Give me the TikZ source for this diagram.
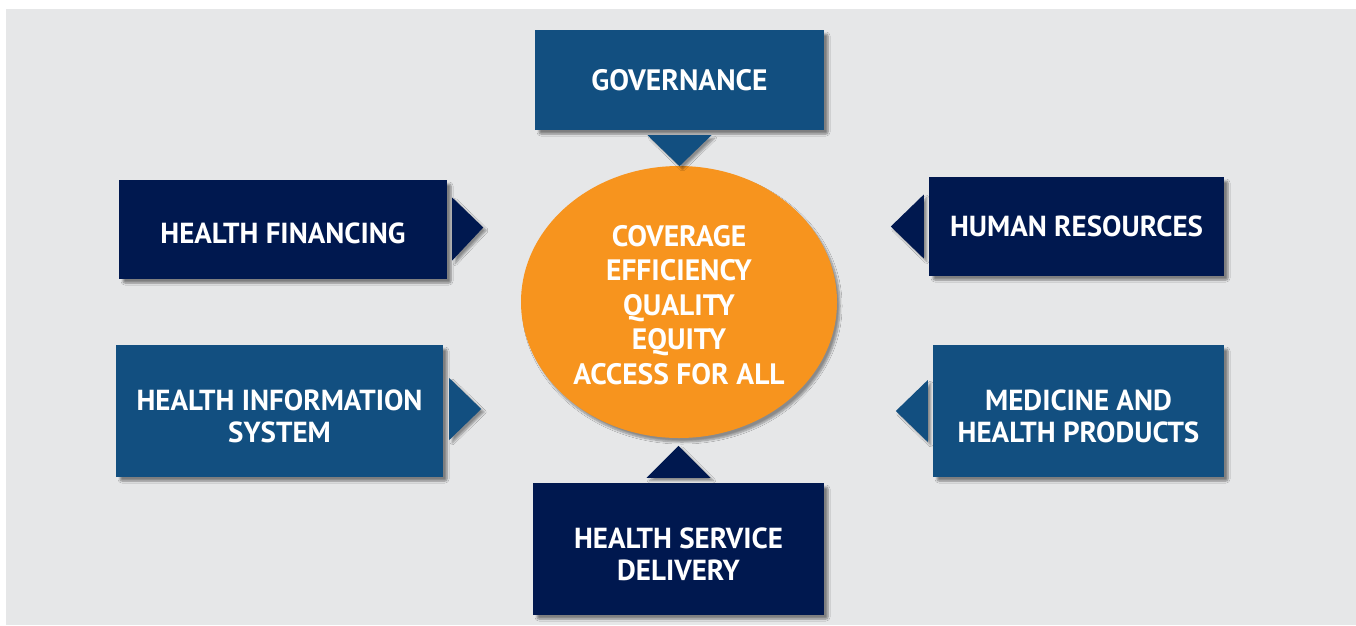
\documentclass[tikz,border=0pt]{standalone}
\usepackage{fontspec}
\setmainfont{PT Sans}
\usetikzlibrary{calc,shadows,shadows.blur,shapes.geometric}
\definecolor{bgray}{HTML}{E6E7E8}
\definecolor{medblue}{HTML}{124F80}
\definecolor{navy}{HTML}{00184F}
\definecolor{orangec}{HTML}{F7941E}
\tikzset{
  box/.style={rectangle, inner sep=0pt,
    blur shadow={shadow xshift=4pt, shadow yshift=-4pt, shadow opacity=45, shadow blur steps=6, shadow blur extra rounding=2pt}},
  lbl/.style={text=white, align=center, inner sep=0pt,
    font=\fontsize{29}{32}\selectfont\bfseries},
  tri/.style={blur shadow={shadow xshift=3pt, shadow yshift=-3pt, shadow opacity=40, shadow blur steps=5}},
}
\begin{document}
\begin{tikzpicture}[x=1pt,y=-1pt]
\useasboundingbox (0,0) rectangle (1356,625);
\fill[white] (0,0) rectangle (1356,625);
\fill[bgray] (6,9) rectangle (1356,625);
% ellipse
\node[ellipse, fill=orangec, minimum width=316pt, minimum height=272pt, inner sep=0pt,
  blur shadow={shadow xshift=3pt, shadow yshift=-4pt, shadow opacity=40, shadow blur steps=8}]
  (core) at (679,302) {};
\node[lbl, font=\fontsize{29.5}{34.5}\selectfont\bfseries] (coretext) at ($(core.center)+(0,3)$)
  {COVERAGE\\EFFICIENCY\\QUALITY\\EQUITY\\ACCESS FOR ALL};
% boxes
\node[box, fill=medblue, minimum width=289pt, minimum height=100pt] (gov) at (679.5,80) {};
\node[box, fill=navy, minimum width=328pt, minimum height=99pt] (fin) at (283,229.5) {};
\node[box, fill=navy, minimum width=295pt, minimum height=99pt] (hr) at (1076.5,226.5) {};
\node[box, fill=medblue, minimum width=327pt, minimum height=132pt] (his) at (279.5,411) {};
\node[box, fill=medblue, minimum width=291pt, minimum height=132pt] (med) at (1078.5,411) {};
\node[box, fill=navy, minimum width=291pt, minimum height=132pt] (hsd) at (678.5,549) {};
% labels
\node[lbl, font=\fontsize{29.5}{32}\selectfont\bfseries] (govt) at ($(gov.center)+(0,0)$) {GOVERNANCE};
\node[lbl] (fint) at ($(fin.center)+(0,4)$) {HEALTH FINANCING};
\node[lbl] (hrt) at ($(hr.center)+(0,0)$) {HUMAN RESOURCES};
\node[lbl] (hist) at ($(his.center)+(0,5)$) {HEALTH INFORMATION\\SYSTEM};
\node[lbl] (medt) at ($(med.center)+(0,5)$) {MEDICINE AND\\HEALTH PRODUCTS};
\node[lbl] (hsdt) at ($(hsd.center)+(0,5)$) {HEALTH SERVICE\\DELIVERY};
% triangles (arrows toward the core)
\fill[medblue, tri] ($(gov.south)+(-32,5)$) -- ($(gov.south)+(32,5)$) -- ($(gov.south)+(0,36)$) -- cycle;
\fill[navy, tri] ($(fin.east)+(5,-32)$) -- ($(fin.east)+(5,31)$) -- ($(fin.east)+(36,-2)$) -- cycle;
\fill[navy, tri] ($(hr.west)+(-5,-32)$) -- ($(hr.west)+(-5,32)$) -- ($(hr.west)+(-38,0)$) -- cycle;
\fill[medblue, tri] ($(his.east)+(6,-33)$) -- ($(his.east)+(6,29)$) -- ($(his.east)+(38,-2)$) -- cycle;
\fill[medblue, tri] ($(med.west)+(-5,-31)$) -- ($(med.west)+(-5,31)$) -- ($(med.west)+(-37,0)$) -- cycle;
\fill[navy, tri] ($(hsd.north)+(-32,-5)$) -- ($(hsd.north)+(32,-5)$) -- ($(hsd.north)+(0,-37)$) -- cycle;
\end{tikzpicture}
\end{document}
